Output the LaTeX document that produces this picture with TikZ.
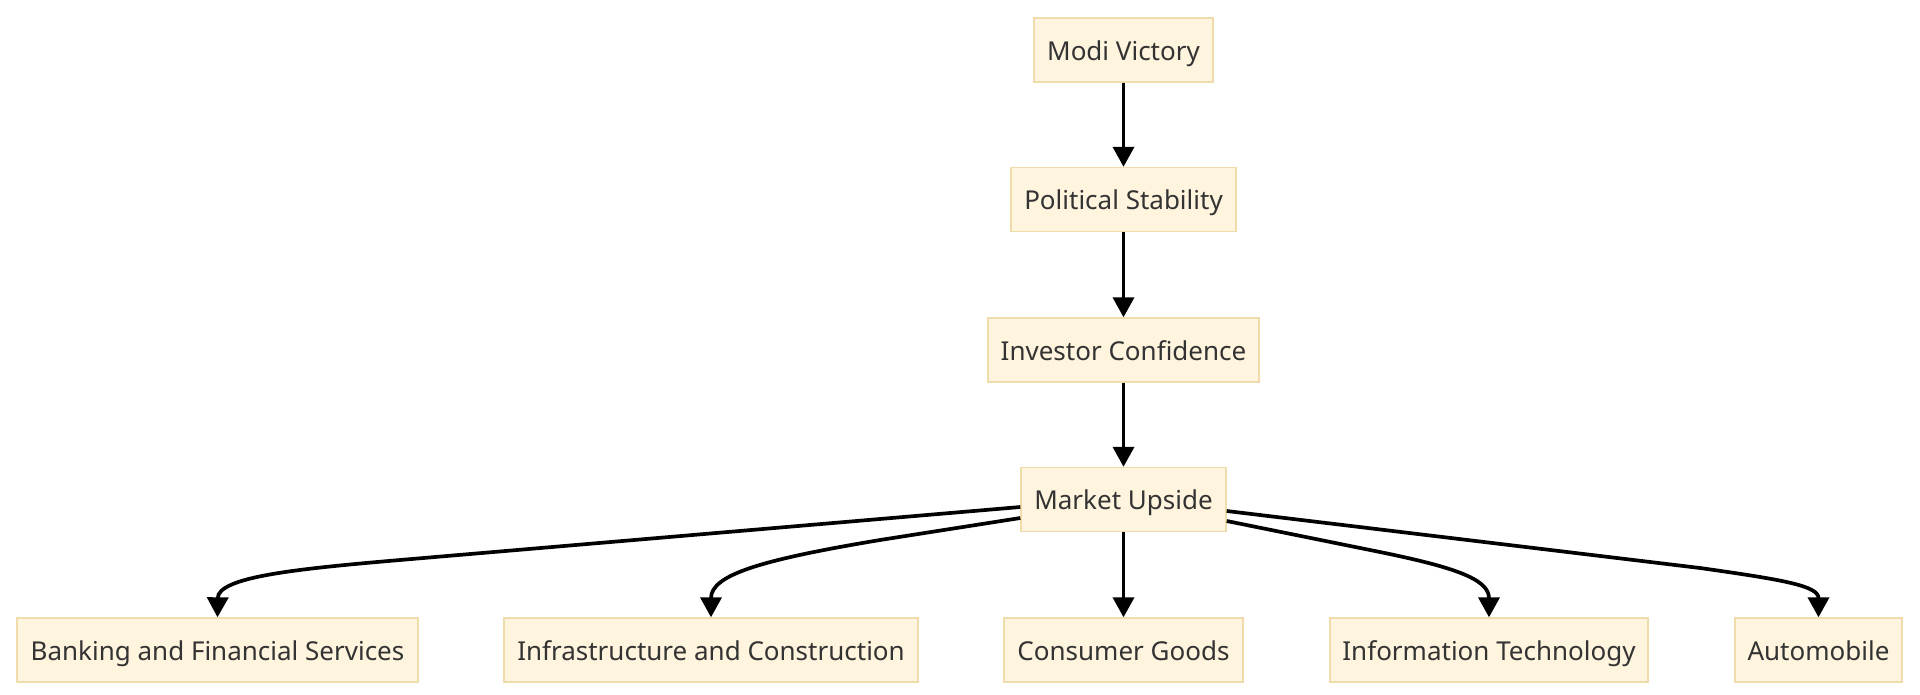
\documentclass[tikz,border=0pt]{standalone}
\usepackage{fontspec}
\setmainfont{Noto Sans}
\usetikzlibrary{arrows.meta,calc}
\definecolor{boxfill}{HTML}{FFF4DD}
\definecolor{boxline}{HTML}{F0DBAA}
\definecolor{txt}{HTML}{333333}
\tikzset{
  box/.style={draw=boxline, fill=boxfill, line width=1.4pt, minimum height=64pt,
    inner xsep=6pt, inner ysep=0pt, text height=26pt, text depth=6pt,
    text=txt, font=\fontsize{26}{30}\selectfont},
  arr/.style={line width=3.7pt, -{Triangle[length=20pt,width=21pt]}, black}
}
\begin{document}
\begin{tikzpicture}[x=1pt,y=-1pt]
\useasboundingbox (0,0) rectangle (1920,694);
\fill[white] (0,0) rectangle (1920,694);
\node[box, minimum width=179pt] (mv) at (1123.5,50) {Modi Victory};
\node[box, minimum width=225pt] (ps) at (1123.5,199.5) {Political Stability};
\node[box, minimum width=271pt] (ic) at (1123.5,350) {Investor Confidence};
\node[box, minimum width=205pt] (mu) at (1123.5,499.5) {Market Upside};
\node[box, minimum width=401pt] (ban) at (217.5,650) {Banking and Financial Services};
\node[box, minimum width=414pt] (inf) at (711,650) {Infrastructure and Construction};
\node[box, minimum width=239pt] (cg) at (1123.5,650) {Consumer Goods};
\node[box, minimum width=318pt] (it) at (1489,650) {Information Technology};
\node[box, minimum width=167pt] (auto) at (1818.5,650) {Automobile};

\draw[arr] (mv) -- (ps);
\draw[arr] (ps) -- (ic);
\draw[arr] (ic) -- (mu);
\draw[arr] (mu) -- (cg);
\draw[arr] ($(mu.west)+(0,7.5)$) -- (400,560) .. controls (295,569) and (218,577) .. (ban.north);
\draw[arr] ($(mu.west)+(0,18.5)$) -- (880,540) .. controls (760,560) and (711,575) .. (inf.north);
\draw[arr] ($(mu.east)+(0,21.5)$) -- (1370,550) .. controls (1450,566) and (1489,578) .. (it.north);
\draw[arr] ($(mu.east)+(0,11.5)$) -- (1700,568) .. controls (1785,580) and (1818.5,586) .. (auto.north);
\end{tikzpicture}
\end{document}
